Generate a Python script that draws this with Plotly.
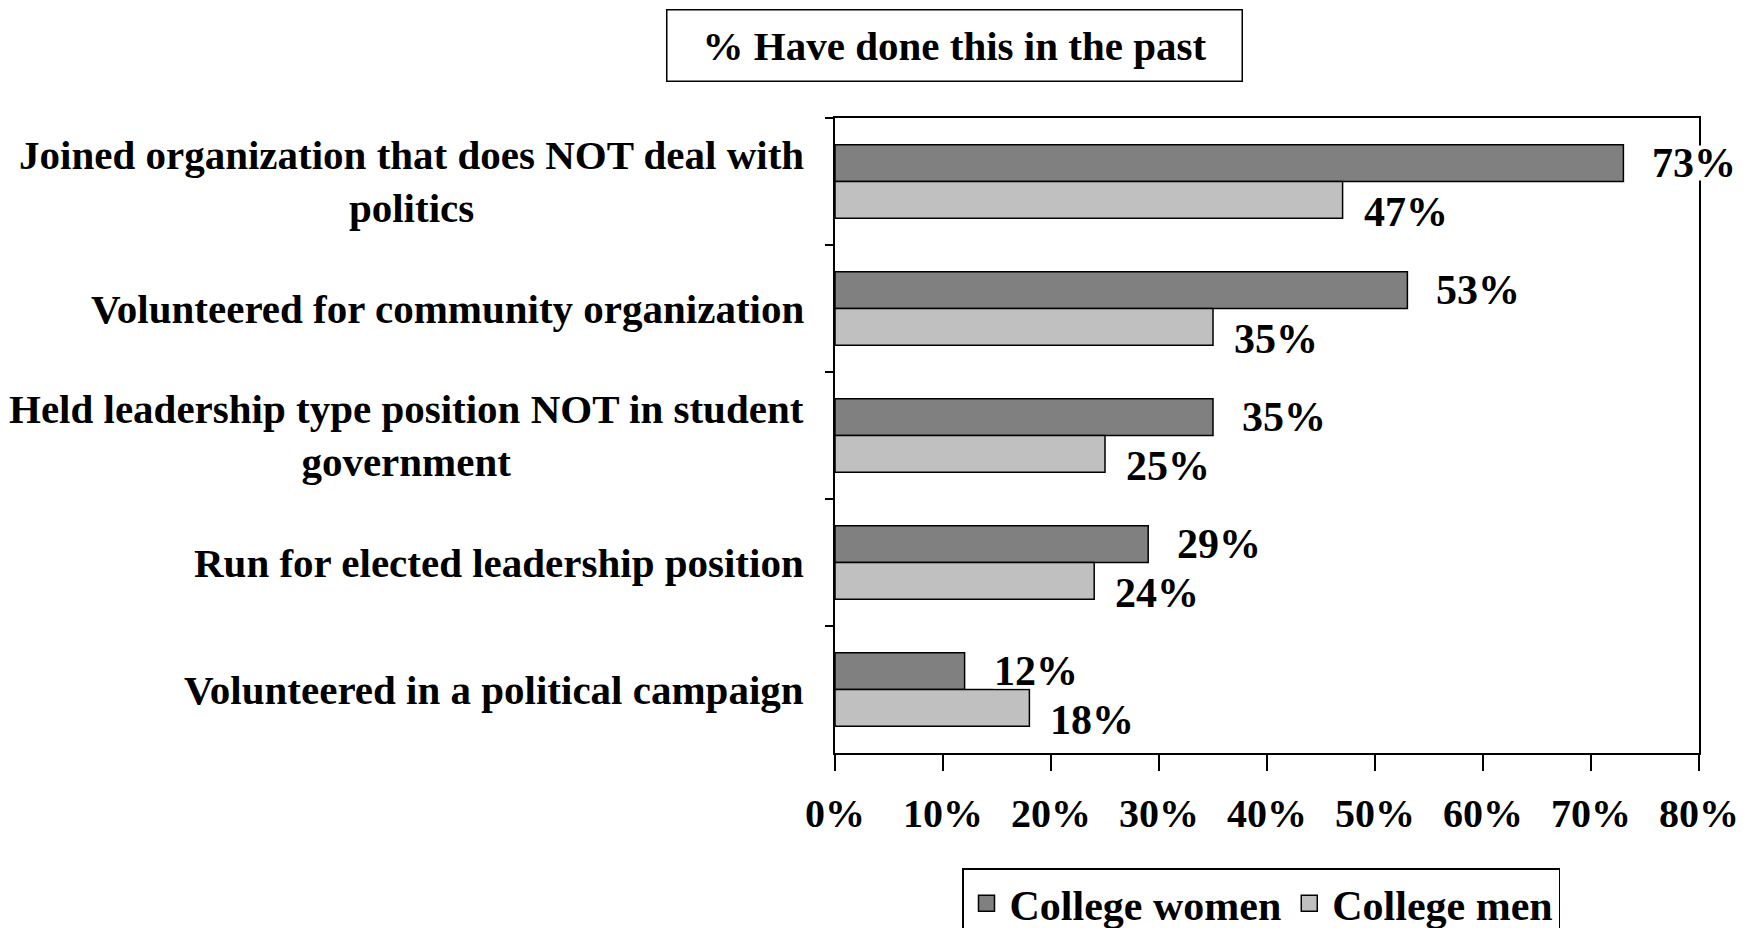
import plotly.graph_objects as go

# Survey items and shares (%) of respondents who have done each activity
categories = [
    "Joined organization that does NOT deal with<br>politics",
    "Volunteered for community organization",
    "Held leadership type position NOT in student<br>government",
    "Run for elected leadership position",
    "Volunteered in a political campaign",
]
series_names = ["College women", "College men"]
women = [73, 53, 35, 29, 12]
men = [47, 35, 25, 24, 18]
x_ticks = [0, 10, 20, 30, 40, 50, 60, 70, 80]

FONT = "Liberation Serif, Times New Roman, serif"
COLORS = ["#808080", "#c0c0c0"]
W, H = 1764, 928
ML, MR, MT, MB = 835, 65, 118, 175
PW, PH = W - ML - MR, H - MT - MB


def bold(size):
    return dict(family=FONT, size=size, color="black", weight="bold")


fig = go.Figure()
for name, vals, col in zip(series_names, [women, men], COLORS):
    fig.add_trace(go.Bar(
        y=categories, x=vals, orientation="h", name=name, showlegend=False,
        marker=dict(color=col, line=dict(color="black", width=1.5)),
    ))
# legend keys: larger square swatches than the default bar symbol
for name, col in zip(series_names, COLORS):
    fig.add_trace(go.Scatter(
        x=[None], y=[None], mode="markers", name=name,
        marker=dict(symbol="square", size=16, color=col,
                    line=dict(color="black", width=1.5)),
    ))

annotations = []
# value labels to the right of each bar
for cat, v in zip(categories, women):
    annotations.append(dict(
        x=v, y=cat, xref="x", yref="y", text=f"{v}%", showarrow=False,
        xanchor="left", yanchor="middle", xshift=28, yshift=19,
        height=34, borderpad=0, bgcolor="white", font=bold(42),
    ))
for cat, v in zip(categories, men):
    annotations.append(dict(
        x=v, y=cat, xref="x", yref="y", text=f"{v}%", showarrow=False,
        xanchor="left", yanchor="middle", xshift=20, yshift=-30,
        height=34, borderpad=0, bgcolor="white", font=bold(42),
    ))
# category labels, centred line by line
for cat in categories:
    annotations.append(dict(
        x=-29 / PW, y=cat, xref="paper", yref="y", text=cat,
        showarrow=False, xanchor="right", yanchor="middle", align="center",
        font=bold(41),
    ))
# boxed title
annotations.append(dict(
    x=(954 - ML) / PW, y=(H - MB - 45) / PH,
    xref="paper", yref="paper", text="% Have done this in the past",
    showarrow=False, xanchor="center", yanchor="middle",
    width=570, height=66, borderpad=2,
    bordercolor="black", borderwidth=1.5, bgcolor="white",
    font=bold(41),
))

fig.update_layout(
    width=W, height=H,
    margin=dict(l=ML, r=MR, t=MT, b=MB, autoexpand=False),
    paper_bgcolor="white", plot_bgcolor="white",
    barmode="group", bargap=0.42, bargroupgap=0,
    font=bold(40),
    annotations=annotations,
    showlegend=True,
    legend=dict(
        orientation="h", x=(962 - ML) / PW, y=(H - MB - 868) / PH,
        xanchor="left", yanchor="top",
        bordercolor="black", borderwidth=1.5, bgcolor="white",
        font=bold(42), itemwidth=36, tracegroupgap=0,
    ),
)
fig.update_yaxes(
    type="category", categoryorder="array", categoryarray=categories,
    autorange="reversed", tickson="boundaries", ticks="outside", ticklen=8,
    tickcolor="black", tickwidth=1.5, showticklabels=False,
    showline=True, linecolor="black", linewidth=1.5, mirror=True,
    showgrid=False, zeroline=False,
)
fig.update_xaxes(
    range=[0, 80], tickvals=x_ticks, ticktext=[f"{t}%" for t in x_ticks],
    ticks="outside", ticklen=16, tickcolor="black", tickwidth=1.5,
    showline=True, linecolor="black", linewidth=1.5, mirror=True,
    showgrid=False, zeroline=False, ticklabelstandoff=8,
    tickfont=bold(40),
)

fig.write_html("out.html")
